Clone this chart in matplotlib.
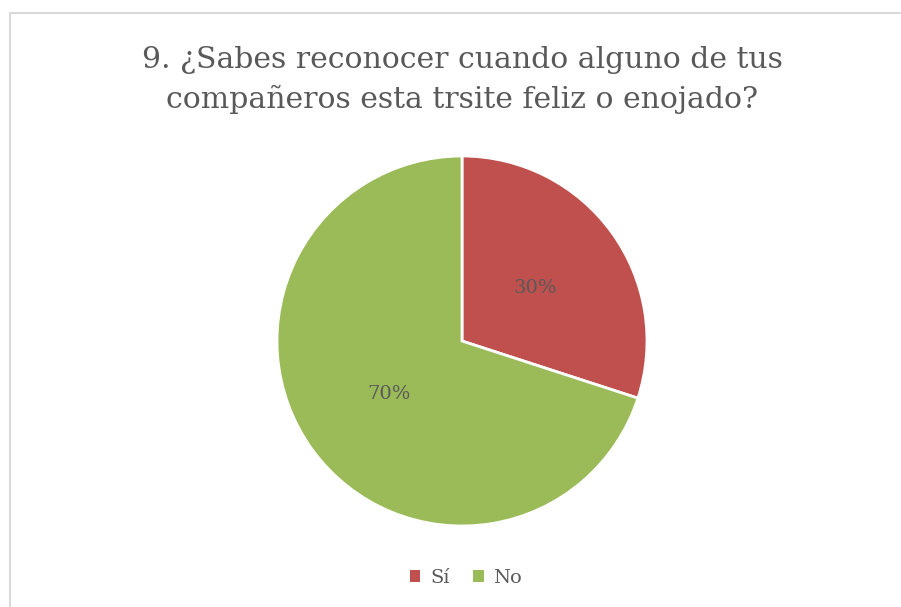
import matplotlib
matplotlib.use("Agg")
import matplotlib.pyplot as plt
from matplotlib.patches import Rectangle, Patch

categories = ["Sí", "No"]
values = [30, 70]
colors = ["#C0504D", "#9BBB59"]
title = "9. ¿Sabes reconocer cuando alguno de tus\ncompañeros esta trsite feliz o enojado?"

W, H = 901, 607
fig = plt.figure(figsize=(W / 100, H / 100), dpi=100)
fig.patch.set_facecolor("white")

# outer border (extends past right/bottom edges)
fig.add_artist(Rectangle((10 / W, -1.0), 2.0, 2.0 - 13 / H, transform=fig.transFigure,
                         fill=False, edgecolor="#D9D9D9", linewidth=1.5))

font = ["DejaVu Serif"]
txtc = "#595959"

fig.text(462 / W, 1 - 80 / H, title, ha="center", va="center", fontsize=21.5,
         color=txtc, family=font, linespacing=1.45)

r = 185
cx, cy = 462, 341
ax = fig.add_axes([(cx - r) / W, 1 - (cy + r) / H, 2 * r / W, 2 * r / H])
wedges, texts, autotexts = ax.pie(values, colors=colors, startangle=90, counterclock=False,
                                  autopct="%1.0f%%", pctdistance=0.49,
                                  wedgeprops=dict(edgecolor="white", linewidth=2),
                                  textprops=dict(color=txtc, fontsize=14, family=font))
ax.set_xlim(-1, 1)
ax.set_ylim(-1, 1)
ax.set_aspect("equal")
ax.axis("off")

handles = [Patch(facecolor=c, edgecolor="none") for c in colors]
leg = fig.legend(handles, categories, loc="center", bbox_to_anchor=(466 / W, 1 - 578 / H),
                 ncol=2, frameon=False, handlelength=0.55, handleheight=0.55,
                 handletextpad=0.5, columnspacing=1.2,
                 prop=dict(family=font, size=14))
for t in leg.get_texts():
    t.set_color(txtc)

fig.savefig("out.png", dpi=100, facecolor="white")
